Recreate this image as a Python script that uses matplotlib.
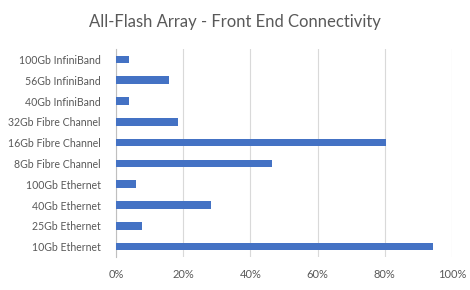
import matplotlib
matplotlib.use("Agg")
import matplotlib.pyplot as plt
from matplotlib.ticker import PercentFormatter

categories = ["10Gb Ethernet", "25Gb Ethernet", "40Gb Ethernet", "100Gb Ethernet",
              "8Gb Fibre Channel", "16Gb Fibre Channel", "32Gb Fibre Channel",
              "40Gb InfiniBand", "56Gb InfiniBand", "100Gb InfiniBand"]
values = [94.3, 7.8, 28.4, 6.0, 46.3, 80.5, 18.5, 3.8, 15.8, 3.8]
xticks = [0, 20, 40, 60, 80, 100]

plt.rcParams['font.family'] = ['Lato', 'DejaVu Sans']
fig = plt.figure(figsize=(4.7, 2.9), dpi=100)
ax = fig.add_axes([116/470, 1-257/290, (452-116)/470, (257-49)/290])

ax.barh(range(len(categories)), values, height=0.36, color="#4472C4", zorder=3)
ax.set_yticks(range(len(categories)))
ax.set_yticklabels(categories)
ax.set_ylim(-0.5, len(categories)-0.5)
ax.set_xlim(0, 100)
ax.set_xticks(xticks)
ax.xaxis.set_major_formatter(PercentFormatter(decimals=0))
ax.grid(axis='x', color="#D9D9D9", linewidth=0.8, zorder=0)
for s in ["top", "right", "bottom"]:
    ax.spines[s].set_visible(False)
ax.spines["left"].set_color("#BFBFBF")
ax.spines["left"].set_linewidth(0.8)
ax.tick_params(axis='both', length=0, colors="#595959")
ax.tick_params(axis='y', pad=11, labelsize=7.6)
ax.tick_params(axis='x', pad=9, labelsize=8)

fig.text(0.5, 1-22/290, "All-Flash Array - Front End Connectivity", ha='center', va='center',
         fontsize=12, color="#595959")

fig.savefig("out.png", dpi=100)
